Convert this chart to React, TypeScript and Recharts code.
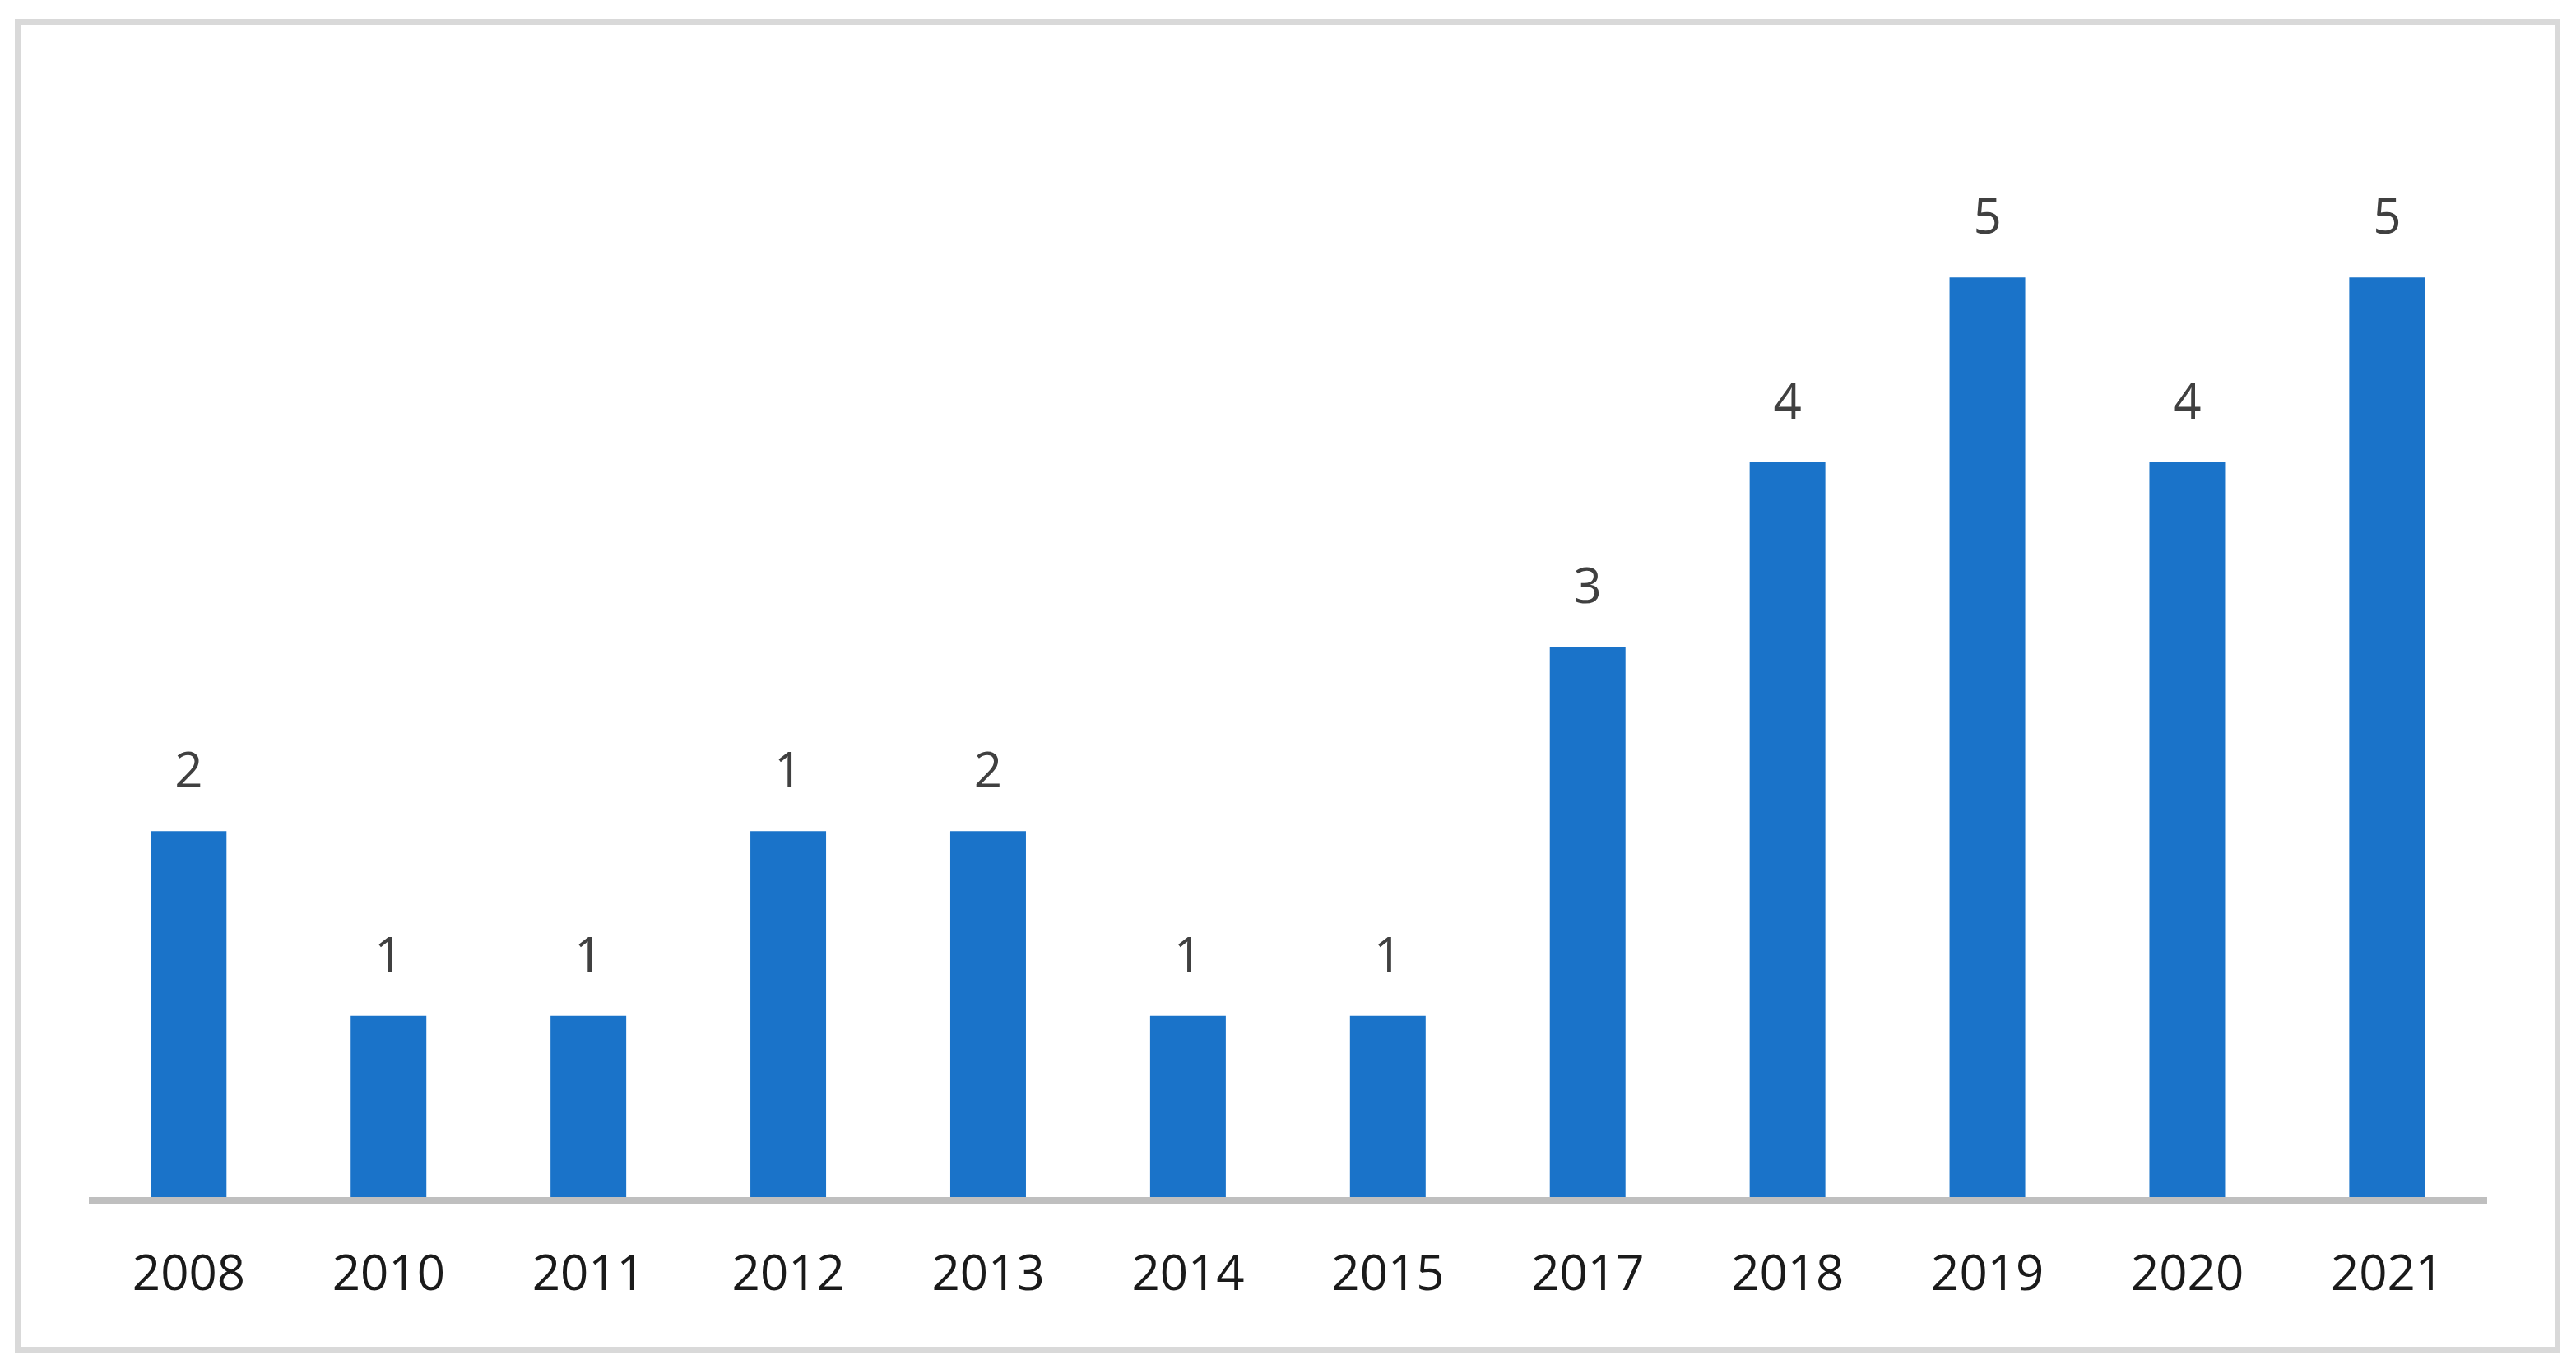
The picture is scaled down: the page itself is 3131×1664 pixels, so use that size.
import React from "react";
import { BarChart, Bar, XAxis, YAxis, LabelList } from "recharts";

const years = ["2008", "2010", "2011", "2012", "2013", "2014", "2015", "2017", "2018", "2019", "2020", "2021"];
const counts = [2, 1, 1, 2, 2, 1, 1, 3, 4, 5, 4, 5];
const labels = ["2", "1", "1", "1", "2", "1", "1", "3", "4", "5", "4", "5"];

const data = years.map((y, i) => ({ year: y, value: counts[i], label: labels[i] }));

const FONT = "'Open Sans', sans-serif";

export default function App() {
  return (
    <div style={{ position: "absolute", left: 0, top: 0, width: 3131, height: 1664, background: "#fff" }}>
      <div
        style={{
          position: "absolute",
          left: 18,
          top: 23,
          width: 3094,
          height: 1621,
          border: "7px solid #d9d9d9",
          boxSizing: "border-box",
        }}
      />
      <div style={{ position: "absolute", left: 0, top: 0 }}>
        <BarChart
          width={3131}
          height={1664}
          data={data}
          margin={{ top: 113, right: 108, left: 108, bottom: 85 }}
          barCategoryGap="31%"
        >
          <YAxis hide domain={[0, 6]} />
          <XAxis
            dataKey="year"
            height={120}
            tickLine={false}
            tickSize={0}
            tickMargin={66}
            axisLine={{ stroke: "#bfbfbf", strokeWidth: 8 }}
            tick={{ fontFamily: FONT, fontSize: 60, fill: "#1a1a1a" }}
            interval={0}
          />
          <Bar dataKey="value" fill="#1a73c9" isAnimationActive={false}>
            <LabelList
              dataKey="label"
              position="top"
              offset={53}
              style={{ fontFamily: FONT, fontSize: 60, fill: "#404040" }}
            />
          </Bar>
        </BarChart>
      </div>
    </div>
  );
}
